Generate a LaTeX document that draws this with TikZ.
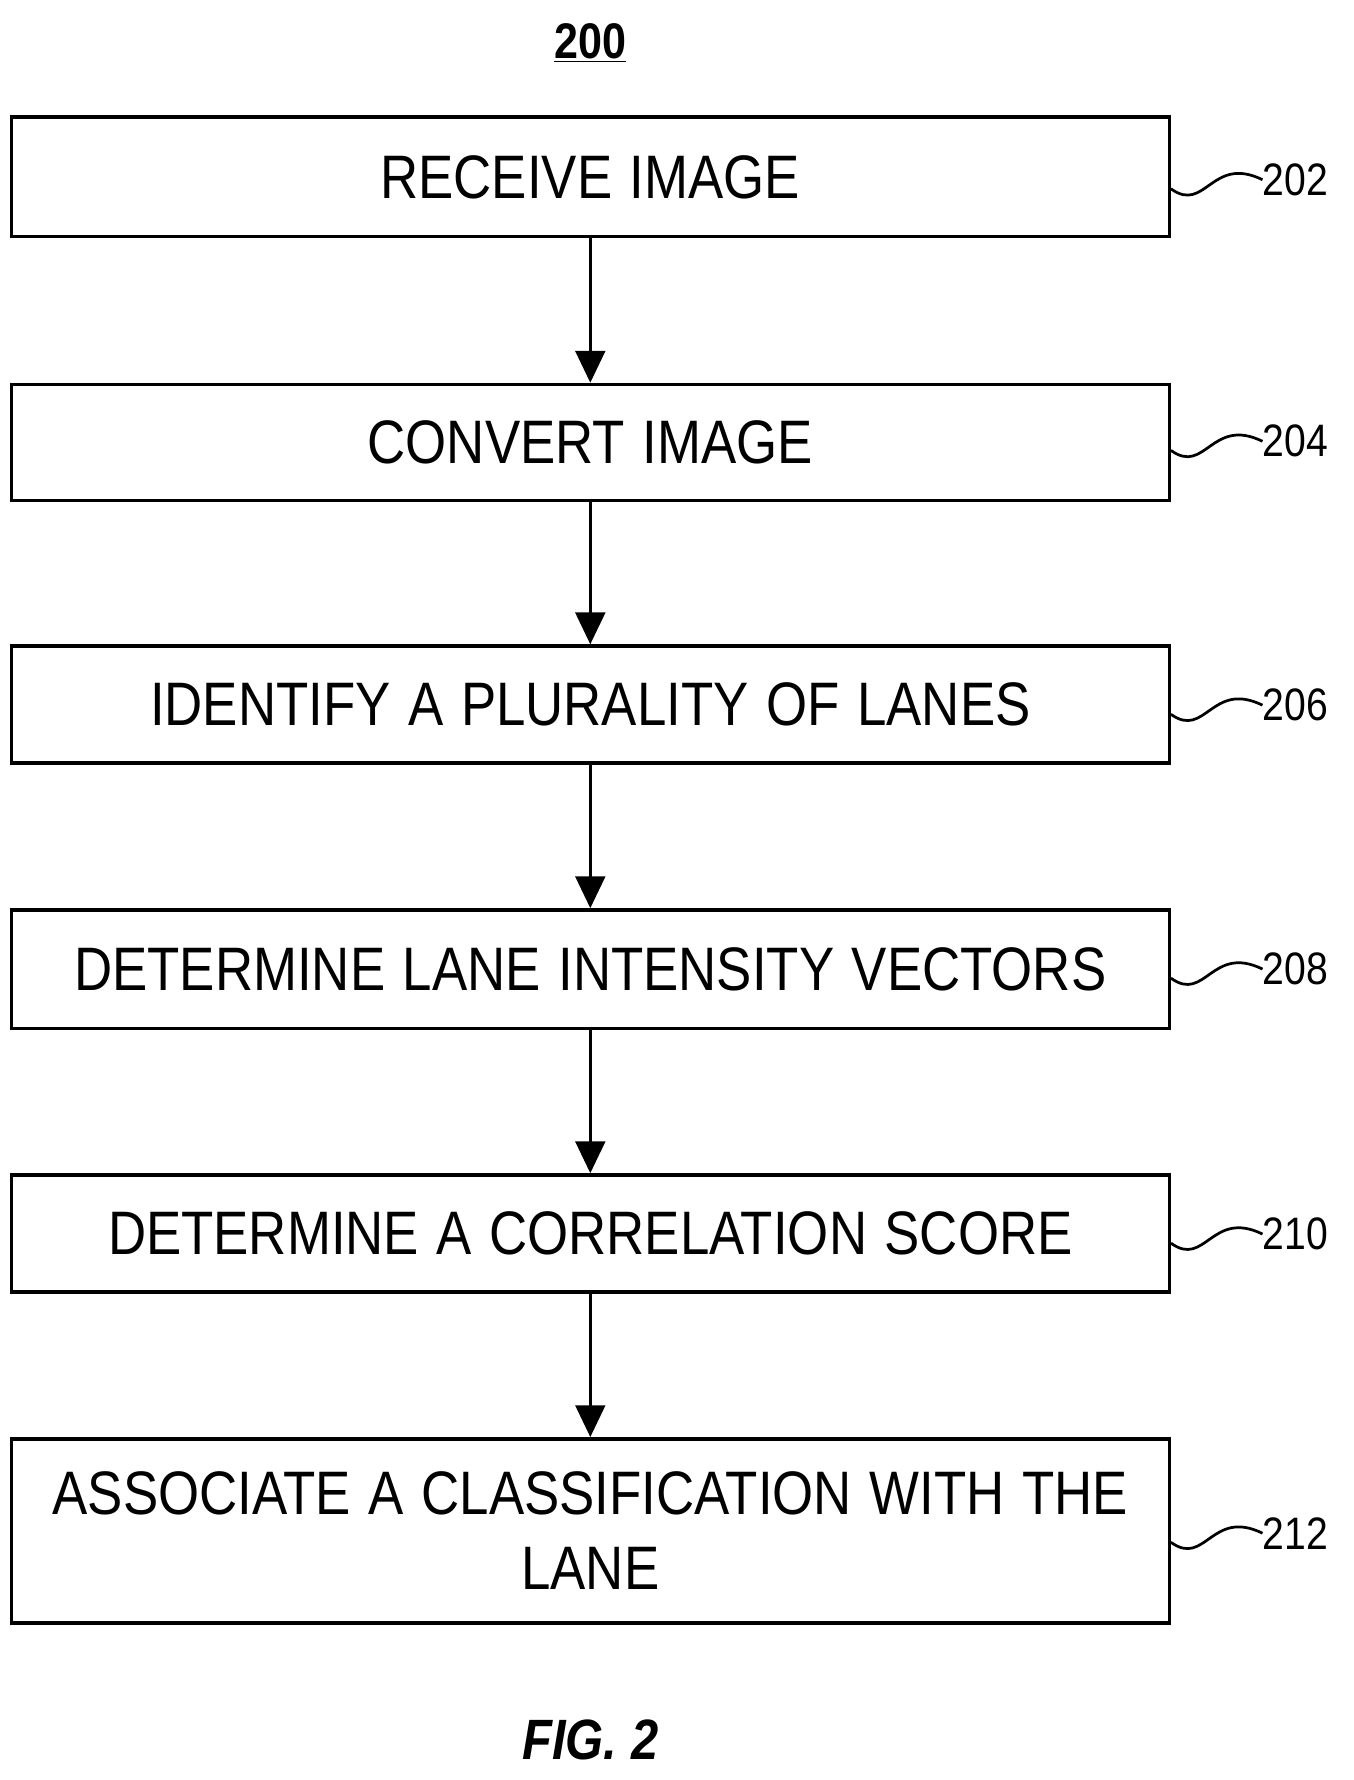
\documentclass[tikz,border=0pt]{standalone}
\usepackage{fontspec}
\setmainfont{Liberation Sans}
\usetikzlibrary{arrows.meta}
\newcommand{\nx}[1]{\scalebox{0.86}[1]{#1}}
\begin{document}
\begin{tikzpicture}[x=0.5pt,y=-0.5pt,
  box/.style={draw,line width=1.5pt,minimum width=509pt,text width=500pt,inner sep=0pt,align=center,font=\fontsize{27}{33}\selectfont},
  arr/.style={line width=1.5pt,-{Triangle[length=14pt,width=13pt]}},
  lab/.style={font=\fontsize{20}{24}\selectfont,anchor=west,inner sep=0pt}]
\useasboundingbox (0,0) rectangle (1190,1565);
\node[font=\bfseries\fontsize{22}{26}\selectfont] (t) at (519,38) {\underline{\nx{200}}};
\node[box,minimum height=52.5pt] (b1) at (519,155.5) {\nx{RECEIVE IMAGE}};
\node[box,minimum height=51pt] (b2) at (519,389) {\nx{CONVERT IMAGE}};
\node[box,minimum height=51.5pt] (b3) at (519,619.5) {\nx{IDENTIFY A PLURALITY OF LANES}};
\node[box,minimum height=52pt] (b4) at (519,852) {\nx{DETERMINE LANE INTENSITY VECTORS}};
\node[box,minimum height=51.5pt] (b5) at (519,1084.5) {\nx{DETERMINE A CORRELATION SCORE}};
\node[box,minimum height=81pt] (b6) at (519,1346) {\nx{ASSOCIATE A CLASSIFICATION WITH THE}\\\nx{LANE}};
\foreach \a/\b in {b1/b2,b2/b3,b3/b4,b4/b5,b5/b6} \draw[arr] (\a) -- (\b);
\foreach \b/\n/\y in {b1/202/158,b2/204/388,b3/206/620,b4/208/852,b5/210/1085,b6/212/1348}{
  \node[lab] (l\n) at (1110,\y) {\nx{\n}};
  \draw[line width=1.2pt] (\b.east |- 0,\y+8) .. controls (1060,\y+30) and (1065,\y-22) .. (l\n.west);
}
\node[font=\bfseries\itshape\fontsize{25}{30}\selectfont] (fig) at (519,1530) {\nx{FIG. 2}};
\end{tikzpicture}
\end{document}
